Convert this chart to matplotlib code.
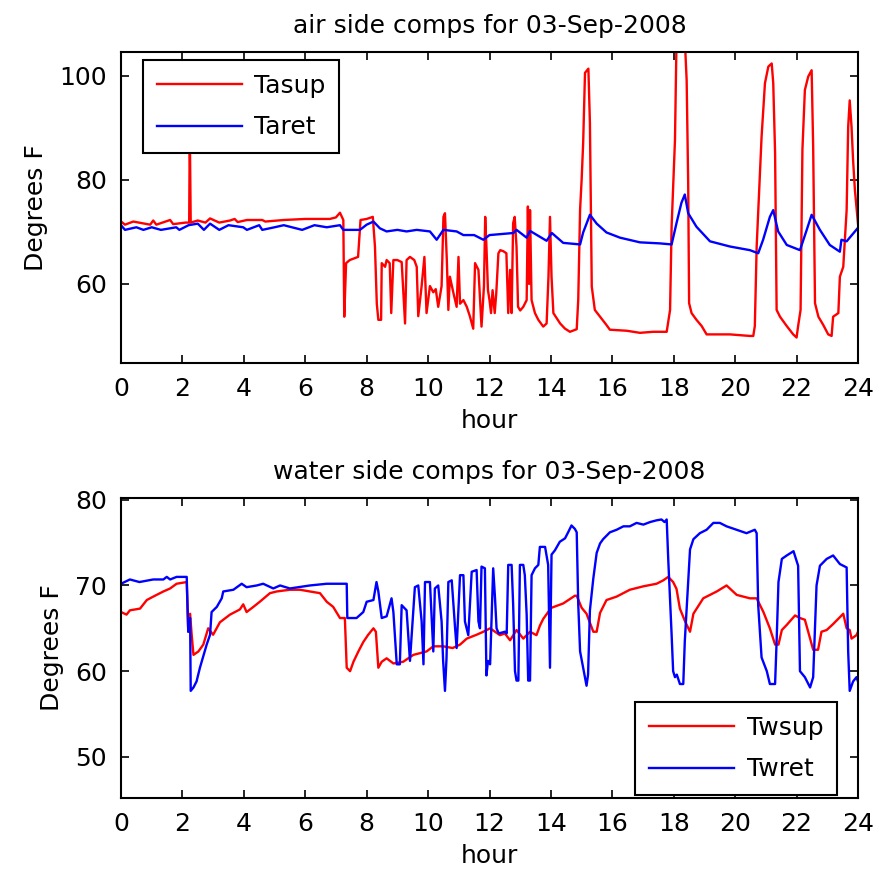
import matplotlib
matplotlib.use("Agg")
import matplotlib.pyplot as plt

# Шрифт
plt.rcParams['font.family'] = ['DejaVu Sans']

# Время (ч) и значения
title_top = 'air side comps for 03-Sep-2008'
title_bot = 'water side comps for 03-Sep-2008'

# --- воздушная сторона ---
tasup_h = [0.0, 0.13, 0.4, 0.95, 1.05, 1.15, 1.6, 1.7, 2.1, 2.22, 2.24, 2.27, 2.5, 2.75, 2.9,
           3.2, 3.55, 3.7, 3.8, 4.1, 4.6, 4.7, 5.3, 6.0, 6.8, 7.0, 7.13, 7.24, 7.27, 7.33,
           7.45, 7.72, 7.80, 8.0, 8.2, 8.27, 8.33, 8.38, 8.47, 8.49, 8.6, 8.65, 8.75, 8.8,
           8.87, 9.0, 9.14, 9.25, 9.3, 9.41, 9.55, 9.63, 9.68, 9.79, 9.88, 9.95, 10.06, 10.17,
           10.25, 10.33, 10.44, 10.5, 10.55, 10.61, 10.66, 10.71, 10.82, 10.93, 10.99, 11.04,
           11.15, 11.26, 11.36, 11.47, 11.53, 11.64, 11.74, 11.82, 11.86, 11.9, 11.95, 12.0,
           12.05, 12.1, 12.17, 12.22, 12.29, 12.35, 12.45, 12.55, 12.61, 12.67, 12.72, 12.77,
           12.82, 12.88, 12.93, 13.0, 13.1, 13.21, 13.25, 13.29, 13.32, 13.37, 13.48, 13.59,
           13.75, 13.86, 13.92, 13.97, 14.02, 14.08, 14.3, 14.46, 14.62, 14.84, 14.89, 14.95,
           15.0, 15.05, 15.11, 15.22, 15.27, 15.33, 15.43, 15.6, 15.81, 15.92, 16.47, 16.9,
           17.33, 17.77, 17.83, 17.88, 17.93, 18.04, 18.09, 18.36, 18.42, 18.47, 18.5, 18.58,
           18.74, 18.91, 19.07, 19.83, 20.48, 20.59, 20.64, 20.7, 20.86, 20.97, 21.08, 21.19,
           21.24, 21.3, 21.35, 21.46, 21.68, 21.89, 22.0, 22.05, 22.13, 22.19, 22.27, 22.38,
           22.49, 22.54, 22.6, 22.71, 22.87, 23.03, 23.14, 23.19, 23.36, 23.41, 23.52, 23.63,
           23.68, 23.73, 23.79, 23.84, 23.9, 24.0]
tasup_v = [72.0, 71.4, 72.0, 71.4, 72.2, 71.4, 72.3, 71.5, 71.8, 71.8, 90.0, 71.8, 72.2, 71.8, 72.6,
           71.8, 72.2, 72.5, 71.9, 72.3, 72.3, 72.0, 72.3, 72.5, 72.5, 72.8, 73.7, 72.3, 53.7, 64.0,
           64.6, 65.2, 72.3, 72.5, 72.9, 67.2, 56.2, 53.1, 53.1, 64.0, 63.3, 64.6, 64.0, 54.4,
           64.6, 64.6, 64.2, 52.4, 64.6, 65.2, 64.6, 63.3, 53.8, 59.6, 65.2, 54.4, 59.6, 58.4,
           59.0, 55.6, 59.6, 72.9, 73.6, 64.6, 55.0, 61.4, 58.4, 55.6, 65.2, 56.2,
           56.9, 55.6, 53.8, 51.4, 64.0, 62.7, 51.8, 59.6, 72.9, 67.2, 58.8, 56.9,
           54.4, 58.8, 54.4, 58.2, 65.9, 66.5, 66.3, 65.9, 54.4, 62.7, 54.4, 71.7,
           72.9, 67.2, 55.6, 54.9, 55.6, 56.9, 74.9, 60.0, 74.2, 56.9, 54.4, 53.1,
           51.8, 52.4, 61.4, 72.9, 61.4, 54.4, 52.4, 51.4, 50.8, 51.3, 57.0, 74.3,
           80.0, 87.1, 100.6, 101.4, 91.0, 59.5, 55.0, 53.7, 52.1, 51.2, 51.0, 50.6,
           50.8, 50.8, 53.1, 55.0, 71.0, 87.7, 107.0, 107.0, 99.2, 79.4, 56.3, 54.4,
           53.1, 51.9, 50.3, 50.3, 50.0, 50.0, 51.9, 67.2, 88.3, 98.6, 101.8, 102.4,
           98.6, 85.2, 55.0, 53.7, 51.9, 50.3, 49.7, 51.9, 55.0, 85.8, 97.3, 99.9,
           101.1, 86.4, 56.3, 53.7, 52.1, 50.3, 50.0, 53.7, 54.4, 61.4, 63.3, 74.2,
           90.2, 95.3, 90.2, 83.8, 78.0, 71.6]

taret_h = [0.0, 0.13, 0.5, 0.73, 1.0, 1.3, 1.8, 1.9, 2.2, 2.5, 2.7, 2.9, 3.2, 3.5, 3.98, 4.1,
           4.5, 4.6, 5.0, 5.3, 5.9, 6.3, 6.7, 7.13, 7.24, 7.35, 7.78, 8.0, 8.22, 8.43, 8.65,
           9.0, 9.3, 9.63, 10.06, 10.28, 10.5, 10.93, 11.15, 11.5, 11.8, 12.0, 12.78, 12.88,
           13.21, 13.32, 13.86, 14.03, 14.4, 14.95, 15.05, 15.27, 15.49, 15.81, 16.25, 16.9,
           17.55, 17.93, 18.09, 18.25, 18.36, 18.47, 18.74, 19.18, 19.83, 20.48, 20.75, 20.91,
           21.13, 21.24, 21.4, 21.68, 22.11, 22.33, 22.49, 22.76, 23.08, 23.41, 23.46, 23.63, 24.0]
taret_v = [71.3, 70.4, 70.9, 70.4, 70.9, 70.4, 70.9, 70.4, 71.3, 71.6, 70.4, 71.6, 70.4, 71.3, 70.9, 70.4,
           71.3, 70.4, 70.9, 71.3, 70.4, 71.3, 70.9, 71.3, 70.4, 70.4, 70.4, 71.4, 72.0, 70.7, 70.1,
           70.4, 70.1, 70.4, 70.1, 68.5, 70.4, 70.1, 69.4, 69.4, 68.5, 69.4, 69.8, 70.4,
           68.9, 70.2, 68.3, 69.8, 67.9, 67.6, 69.9, 73.3, 71.6, 69.9, 68.9, 68.0,
           67.8, 67.6, 71.7, 75.6, 77.2, 73.6, 71.0, 68.2, 67.2, 66.5, 65.9, 68.5,
           72.9, 74.2, 70.1, 67.5, 66.5, 70.4, 73.3, 70.4, 67.5, 66.2, 68.5, 68.2, 70.8]

# --- водяная сторона ---
twsup_h = [0.0, 0.18, 0.29, 0.62, 0.84, 1.05, 1.38, 1.6, 1.81, 2.14, 2.19, 2.25, 2.3, 2.36, 2.52,
           2.68, 2.84, 3.0, 3.22, 3.55, 3.87, 3.98, 4.09, 4.31, 4.52, 4.85, 5.07, 5.5, 5.83, 6.15,
           6.48, 6.7, 6.91, 7.13, 7.29, 7.35, 7.46, 7.57, 7.73, 7.89, 8.05, 8.22, 8.3, 8.38,
           8.49, 8.65, 8.87, 9.19, 9.52, 9.95, 10.17, 10.49, 10.8, 11.04, 11.26, 11.58, 11.8,
           12.02, 12.34, 12.5, 12.67, 12.88, 13.1, 13.32, 13.53, 13.64, 13.75, 13.91, 14.02,
           14.4, 14.78, 14.84, 15.0, 15.16, 15.38, 15.49, 15.6, 15.81, 16.14, 16.57, 17.01,
           17.44, 17.66, 17.82, 17.98, 18.09, 18.2, 18.37, 18.53, 18.64, 18.96, 19.4, 19.72,
           20.05, 20.48, 20.7, 20.92, 21.13, 21.3, 21.41, 21.52, 21.68, 21.95, 22.11, 22.27,
           22.44, 22.54, 22.7, 22.81, 22.98, 23.19, 23.52, 23.63, 23.73, 23.79, 23.95, 24.0]
twsup_v = [66.9, 66.6, 67.1, 67.3, 68.3, 68.7, 69.3, 69.65, 70.2, 70.4, 64.6, 66.7, 64.3, 61.9, 62.3,
           63.1, 65.0, 64.25, 65.7, 66.6, 67.2, 67.8, 66.9, 67.5, 68.1, 69.1, 69.3, 69.5, 69.5, 69.3,
           69.1, 68.1, 67.5, 66.2, 66.2, 60.4, 60.0, 61.1, 62.3, 63.4, 64.25, 65.0, 64.6, 60.4,
           61.1, 61.5, 60.9, 61.1, 61.9, 62.3, 62.9, 62.9, 62.7, 63.1, 63.8, 64.25, 64.6,
           65.0, 64.2, 64.4, 63.6, 64.8, 63.8, 64.6, 64.2, 65.3, 66.1, 66.9, 67.4,
           67.9, 68.8, 68.8, 67.4, 66.7, 64.6, 64.6, 66.8, 68.3, 68.7, 69.5, 69.9,
           70.2, 70.6, 71.0, 70.4, 69.6, 67.3, 65.8, 64.6, 66.7, 68.5, 69.3, 70.0,
           68.9, 68.5, 68.5, 66.9, 65.0, 63.1, 63.1, 64.8, 65.4, 66.5, 66.2, 66.0,
           63.8, 62.5, 62.5, 64.6, 64.8, 65.5, 66.7, 65.0, 64.8, 63.8, 64.2, 64.6]

twret_h = [0.0, 0.29, 0.6, 1.05, 1.38, 1.49, 1.6, 1.81, 2.14, 2.19, 2.25, 2.27, 2.36, 2.46, 2.57,
           2.79, 2.9, 2.95, 3.12, 3.28, 3.33, 3.66, 3.93, 4.09, 4.42, 4.63, 4.96, 5.18, 5.5, 6.15,
           6.7, 7.35, 7.37, 7.67, 7.89, 8.0, 8.22, 8.32, 8.38, 8.49, 8.65, 8.81, 8.87, 8.98,
           9.08, 9.14, 9.3, 9.41, 9.57, 9.68, 9.79, 9.85, 9.9, 10.06, 10.17, 10.22, 10.33,
           10.44, 10.49, 10.55, 10.6, 10.66, 10.77, 10.88, 10.93, 11.04, 11.15, 11.2, 11.31,
           11.42, 11.58, 11.64, 11.69, 11.74, 11.85, 11.9, 11.95, 12.02, 12.12, 12.18, 12.23,
           12.3, 12.5, 12.56, 12.61, 12.72, 12.77, 12.83, 12.88, 12.94, 12.99, 13.1, 13.15,
           13.21, 13.26, 13.32, 13.37, 13.48, 13.59, 13.64, 13.81, 13.91, 13.97, 14.02, 14.13,
           14.29, 14.46, 14.56, 14.67, 14.78, 14.84, 14.89, 14.95, 15.05, 15.1, 15.16, 15.21,
           15.27, 15.38, 15.49, 15.6, 15.7, 15.92, 16.14, 16.36, 16.57, 16.79, 17.01, 17.23,
           17.44, 17.6, 17.7, 17.77, 17.82, 17.93, 17.98, 18.04, 18.1, 18.2, 18.31, 18.36,
           18.47, 18.53, 18.64, 18.85, 19.07, 19.29, 19.5, 19.72, 20.05, 20.37, 20.64, 20.7,
           20.75, 20.86, 21.03, 21.13, 21.3, 21.35, 21.41, 21.52, 21.68, 21.9, 22.05, 22.11,
           22.27, 22.44, 22.54, 22.65, 22.76, 22.98, 23.19, 23.41, 23.63, 23.68, 23.73, 23.84,
           23.95, 24.0]
twret_v = [70.2, 70.7, 70.4, 70.7, 70.7, 71.0, 70.7, 71.0, 71.0, 64.6, 66.2, 57.7, 58.1, 58.8, 60.4,
           63.1, 64.25, 66.9, 67.5, 68.5, 69.3, 69.5, 70.2, 69.8, 70.0, 70.2, 69.65, 70.0, 69.65, 70.0,
           70.2, 70.2, 66.2, 66.2, 66.9, 68.1, 68.3, 70.4, 69.3, 66.2, 66.4, 68.5, 66.9, 60.8,
           60.8, 67.7, 67.1, 61.2, 69.8, 70.0, 65.8, 60.8, 70.4, 70.4, 62.3, 69.65, 70.0,
           65.8, 61.2, 57.7, 61.5, 70.4, 70.6, 65.0, 62.7, 71.2, 71.2, 65.8, 64.2,
           71.6, 71.8, 65.8, 65.0, 72.2, 72.0, 59.5, 61.2, 60.8, 72.0, 68.5, 65.0,
           64.4, 64.6, 64.4, 72.4, 72.4, 67.8, 60.0, 58.9, 58.9, 72.4, 72.4, 71.2,
           66.6, 58.9, 58.9, 71.2, 72.0, 72.4, 74.5, 74.5, 72.4, 60.4, 73.6, 74.1,
           75.1, 75.5, 76.2, 77.0, 76.6, 76.2, 67.8, 62.3, 60.4, 59.5, 58.3, 59.6,
           67.1, 70.8, 73.8, 74.9, 75.4, 76.2, 76.5, 76.9, 76.9, 77.3, 77.1, 77.4,
           77.6, 77.7, 77.4, 77.7, 73.1, 64.3, 60.0, 59.3, 59.6, 58.5, 58.5, 63.5,
           70.4, 74.2, 75.4, 76.1, 76.5, 77.3, 77.3, 76.9, 76.5, 76.1, 76.5, 76.1,
           67.7, 61.6, 60.0, 58.5, 58.5, 63.5, 70.4, 73.1, 73.5, 74.0, 72.3, 60.0,
           59.3, 58.1, 59.3, 70.0, 72.3, 73.1, 73.5, 72.5, 72.1, 62.3, 57.7, 58.8,
           59.3, 58.8]

hour_ticks = [0, 2, 4, 6, 8, 10, 12, 14, 16, 18, 20, 22, 24]
fs = 18
lw = 1.7


def style_axes(ax, yticks, ylim, title):
    ax.set_xlim(0, 24)
    ax.set_ylim(*ylim)
    ax.set_xticks(hour_ticks)
    ax.set_yticks(yticks)
    ax.tick_params(direction='in', length=6, width=1.2, top=True, right=True,
                   labelsize=fs, pad=10)
    for sp in ax.spines.values():
        sp.set_linewidth(1.5)
    ax.set_xlabel('hour', fontsize=fs, labelpad=6)
    ax.set_ylabel('Degrees F', fontsize=fs, labelpad=8)
    ax.set_title(title, fontsize=fs, pad=14)


def add_legend(ax, loc, anchor):
    leg = ax.legend(loc=loc, bbox_to_anchor=anchor, fontsize=fs,
                    handlelength=3.4, handletextpad=0.5, labelspacing=0.7,
                    borderpad=0.55, borderaxespad=0, fancybox=False,
                    framealpha=1, edgecolor='black')
    leg.get_frame().set_linewidth(1.5)


fig = plt.figure(figsize=(8.8, 8.73), dpi=100)

# Верхний график: воздух
ax1 = fig.add_axes([0.1375, 0.5842, 0.8375, 0.3562])
ax1.plot(tasup_h, tasup_v, color='#ff0000', lw=lw, label='Tasup')
ax1.plot(taret_h, taret_v, color='#0000ff', lw=lw, label='Taret')
style_axes(ax1, [60, 80, 100], (44.8, 104.6), title_top)
add_legend(ax1, 'upper left', (0.03, 0.974))

# Нижний график: вода
ax2 = fig.add_axes([0.1375, 0.0859, 0.8375, 0.3436])
ax2.plot(twsup_h, twsup_v, color='#ff0000', lw=lw, label='Twsup')
ax2.plot(twret_h, twret_v, color='#0000ff', lw=lw, label='Twret')
style_axes(ax2, [50, 60, 70, 80], (45.2, 80.2), title_bot)
add_legend(ax2, 'lower right', (0.9715, 0.01))

fig.savefig('out.png', dpi=100)
